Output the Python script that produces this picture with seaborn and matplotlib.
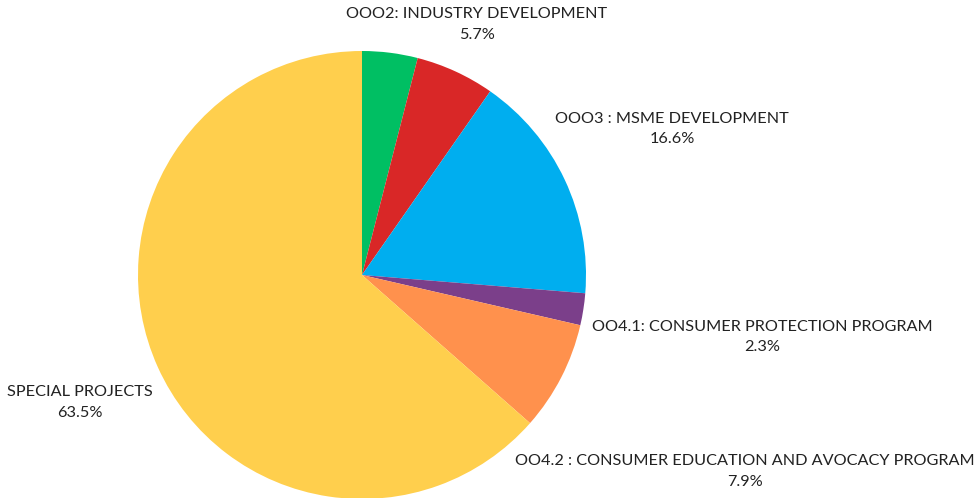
"""
Budget share by program - pie chart
"""

import matplotlib
matplotlib.use("Agg")
import numpy as np
import matplotlib.pyplot as plt
import seaborn as sns

# Data (clockwise from 12 o'clock)
PROGRAMS = [
    "OOO1",
    "OOO2: INDUSTRY DEVELOPMENT",
    "OOO3 : MSME DEVELOPMENT",
    "OO4.1: CONSUMER PROTECTION PROGRAM",
    "OO4.2 : CONSUMER EDUCATION AND AVOCACY PROGRAM",
    "SPECIAL PROJECTS",
]
SHARES = [4.0, 5.7, 16.6, 2.3, 7.9, 63.5]
SHOW_LABEL = [False, True, True, True, True, True]

# Style
COLORS = ["#00BF63", "#D92727", "#00AEEF", "#7B3F8A", "#FF914D", "#FFCF4D"]
LABEL_DIST = [1.23, 1.23, 1.53, 1.81, 1.92, 1.38]

sns.set_theme(style="white")
plt.rcParams["font.family"] = ["Lato", "DejaVu Sans"]

fig = plt.figure(figsize=(9.8, 4.98), dpi=100)
ax = fig.add_axes([138 / 980, -1 / 498, 448 / 980, 448 / 498])

wedges, _ = ax.pie(SHARES, colors=COLORS, startangle=90, counterclock=False,
                   radius=1.0, wedgeprops=dict(linewidth=0))
ax.set_xlim(-1, 1)
ax.set_ylim(-1, 1)
ax.set_aspect("equal")
ax.axis("off")

for w, name, share, show, dist in zip(wedges, PROGRAMS, SHARES, SHOW_LABEL, LABEL_DIST):
    if not show:
        continue
    mid = np.deg2rad((w.theta1 + w.theta2) / 2)
    x, y = dist * np.cos(mid), dist * np.sin(mid)
    ax.text(x, y, f"{name}\n{share:.1f}%", ha="center", va="center",
            fontsize=11.7, color="#222222", linespacing=1.6, clip_on=False)

plt.savefig("out.png", dpi=100)
plt.close()
